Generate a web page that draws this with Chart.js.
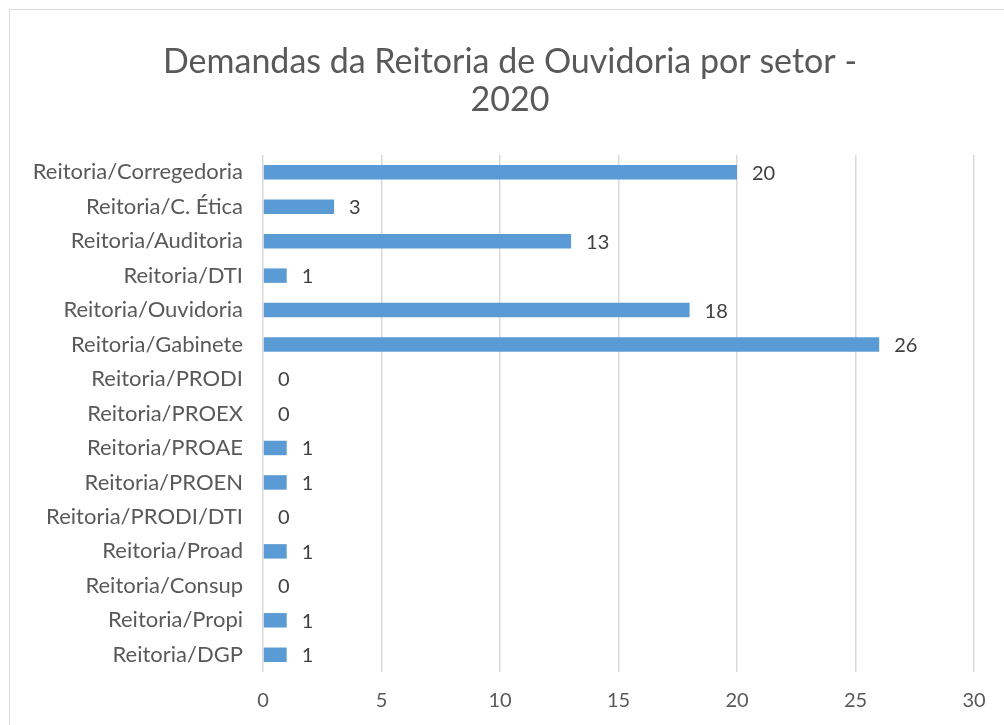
<!DOCTYPE html>
<html>
<head>
<meta charset="utf-8">
<script src="https://cdn.jsdelivr.net/npm/chart.js@4"></script>
<style>
  html, body { margin: 0; padding: 0; background: #fff; overflow: hidden; }
  #frame {
    position: absolute; left: 9px; top: 9px; width: 1100px; height: 800px;
    border: 1px solid #d9d9d9;
  }
  #wrap { position: absolute; left: 10px; top: 10px; width: 1000px; height: 715px; }
</style>
</head>
<body>
<div id="frame"></div>
<div id="wrap"><canvas id="chart"></canvas></div>
<script>
const titleLines = ["Demandas da Reitoria de Ouvidoria por setor -", "2020"];
const sectors = [
  "Reitoria/Corregedoria", "Reitoria/C. Ética", "Reitoria/Auditoria", "Reitoria/DTI",
  "Reitoria/Ouvidoria", "Reitoria/Gabinete", "Reitoria/PRODI", "Reitoria/PROEX",
  "Reitoria/PROAE", "Reitoria/PROEN", "Reitoria/PRODI/DTI", "Reitoria/Proad",
  "Reitoria/Consup", "Reitoria/Propi", "Reitoria/DGP"
];
const demandas = [20, 3, 13, 1, 18, 26, 0, 0, 1, 1, 0, 1, 0, 1, 1];
const xMin = 0, xMax = 30, xStep = 5;

const FONT = "Lato, 'Open Sans', sans-serif";

// title centred on the whole frame (built-in title would centre on the padded box)
const frameTitle = {
  id: "frameTitle",
  afterDraw(chart) {
    const ctx = chart.ctx;
    ctx.save();
    ctx.font = "34px " + FONT;
    ctx.fillStyle = "#595959";
    ctx.textAlign = "center";
    ctx.textBaseline = "middle";
    titleLines.forEach((line, i) => {
      ctx.fillText(line, chart.width / 2, 52 + i * 38);
    });
    ctx.restore();
  }
};

// value labels next to each bar
const barLabels = {
  id: "barLabels",
  afterDatasetsDraw(chart) {
    const ctx = chart.ctx;
    const meta = chart.getDatasetMeta(0);
    ctx.save();
    ctx.font = "20px " + FONT;
    ctx.fillStyle = "#404040";
    ctx.textAlign = "left";
    ctx.textBaseline = "middle";
    meta.data.forEach((bar, i) => {
      ctx.fillText(String(demandas[i]), bar.x + 15, bar.y + 1);
    });
    ctx.restore();
  }
};

new Chart(document.getElementById("chart"), {
  type: "bar",
  data: {
    labels: sectors,
    datasets: [{
      data: demandas,
      backgroundColor: "#5b9bd5",
      categoryPercentage: 1,
      barPercentage: 0.42
    }]
  },
  options: {
    indexAxis: "y",
    responsive: true,
    maintainAspectRatio: false,
    animation: false,
    layout: { padding: { left: 0, right: 36, top: 145, bottom: 0 } },
    plugins: {
      legend: { display: false },
      tooltip: { enabled: false },
      title: { display: false }
    },
    scales: {
      x: {
        min: xMin,
        max: xMax,
        ticks: {
          stepSize: xStep,
          color: "#595959",
          font: { family: FONT, size: 20 },
          padding: 17
        },
        grid: { color: "#d9d9d9", lineWidth: 1.5, drawTicks: false },
        border: { display: false },
        afterFit: s => { s.height = 53; }
      },
      y: {
        ticks: {
          color: "#595959",
          font: { family: FONT, size: 22 },
          padding: 20,
          autoSkip: false
        },
        grid: { display: false, drawTicks: false },
        border: { display: false },
        afterFit: s => { s.width = 253; }
      }
    }
  },
  plugins: [barLabels, frameTitle]
});
</script>
</body>
</html>
